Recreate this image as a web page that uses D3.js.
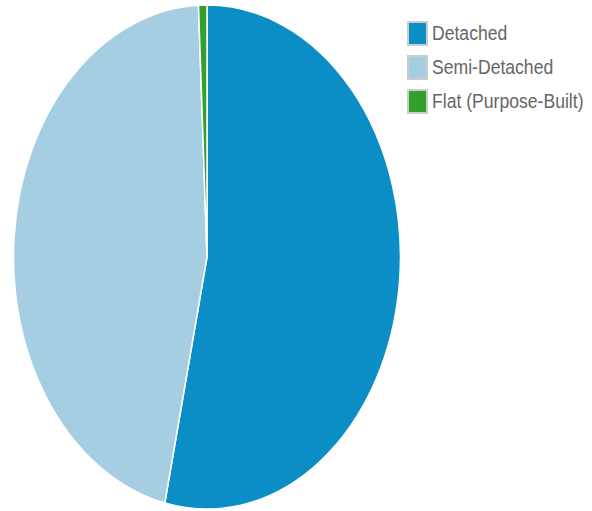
<html lang="en">
<head>
    <title>Dwelling Types</title>
    <style>
        body { margin: 0; background: #fff; }
        .legend text {
            font-family: "Liberation Sans", Arial, sans-serif;
            font-size: 17.6px;
            fill: #666;
        }
    </style>
</head>
<body>
<svg id="chart" width="592" height="511"></svg>
<script src="https://d3js.org/d3.v7.min.js"></script>
<script>
    // data
    var categories = ["Detached", "Semi-Detached", "Flat (Purpose-Built)"];
    var shares = [53.5, 45.8, 0.7];
    var colours = ["#0b8ec5", "#a6cee3", "#33a02c"];

    var width = 592, height = 511;
    var cx = 207, cy = 257, rx = 193.5, ry = 252;

    var svg = d3.select("#chart");

    var pie = d3.pie().sort(null).value(d => d.v);
    var arc = d3.arc().innerRadius(0).outerRadius(1);

    var data = categories.map((c, i) => ({ name: c, v: shares[i], col: colours[i] }));

    // the pie is stretched into an ellipse
    var g = svg.append("g")
        .attr("transform", "translate(" + cx + "," + cy + ") scale(" + rx + "," + ry + ")");

    g.selectAll("path")
        .data(pie(data))
        .enter()
        .append("path")
        .attr("d", arc)
        .attr("fill", d => d.data.col)
        .attr("stroke", "#fff")
        .attr("stroke-width", 1.5)
        .attr("vector-effect", "non-scaling-stroke");

    // legend
    var legend = svg.append("g").attr("class", "legend");
    var item = legend.selectAll("g")
        .data(data)
        .enter()
        .append("g")
        .attr("transform", (d, i) => "translate(407," + (21 + i * 34) + ")");

    item.append("rect")
        .attr("x", 1)
        .attr("y", 1)
        .attr("width", 19)
        .attr("height", 23)
        .attr("fill", d => d.col)
        .attr("stroke", "#ccc")
        .attr("stroke-width", 2);

    item.append("text")
        .attr("transform", "translate(25,18.5) scale(1,1.15)")
        .text(d => d.name);
</script>
</body>
</html>
